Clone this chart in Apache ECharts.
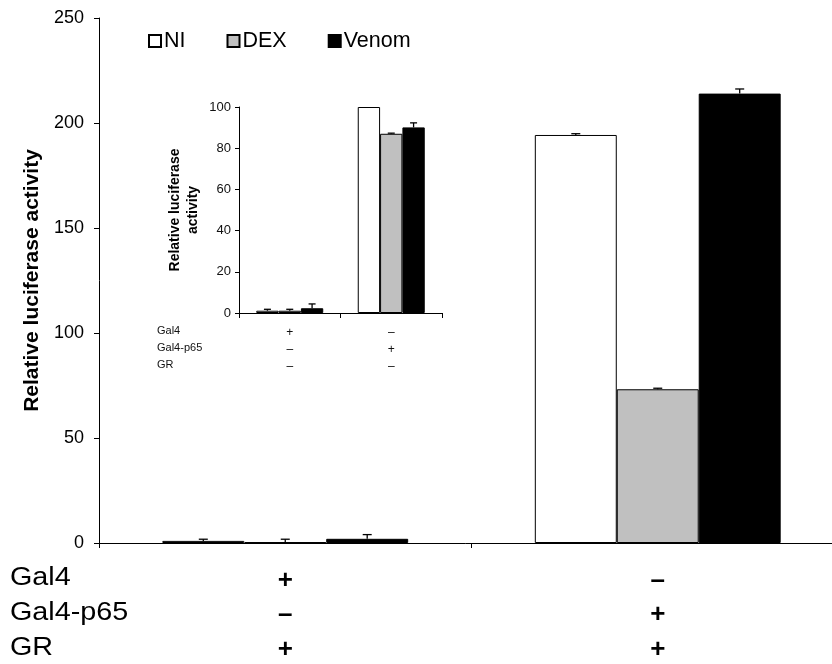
<!DOCTYPE html>
<html><head><meta charset="utf-8">
<script src="https://cdn.jsdelivr.net/npm/echarts@6/dist/echarts.min.js"></script>
<style>html,body{margin:0;padding:0;background:#fff}#c{width:832px;height:664px}</style>
</head><body><div id="c"></div>
<script>
// ---- data ----
const categories = ['g1', 'g2'];
const seriesNames = ['NI', 'DEX', 'Venom'];
// main chart (Gal4 + / Gal4-p65 - / GR +  and  Gal4 - / Gal4-p65 + / GR +)
const mainNI = [1.0, 194.3];
const mainDEX = [0.4, 73.2];
const mainVenom = [2.0, 214.0];
const mainNIErr = [0.8, 0.6];
const mainDEXErr = [1.4, 0.5];
const mainVenomErr = [2.0, 2.2];
const mainYTicks = [0, 50, 100, 150, 200, 250];
const mainRowLabels = ['Gal4', 'Gal4-p65', 'GR'];
const mainSigns = [['+', '–', '+'], ['–', '+', '+']];
// inset chart
const insetNI = [1.1, 100];
const insetDEX = [1.1, 87.0];
const insetVenom = [2.3, 90.1];
const insetNIErr = [0.7, 0];
const insetDEXErr = [0.7, 0.3];
const insetVenomErr = [2.1, 2.2];
const insetYTicks = [0, 20, 40, 60, 80, 100];
const insetRowLabels = ['Gal4', 'Gal4-p65', 'GR'];
const insetSigns = [['+', '–', '–'], ['–', '+', '–']];

const FONT = 'Liberation Sans, Arial, sans-serif';
const colors = ['#ffffff', '#c0c0c0', '#000000'];
const BARW = 0.22;

const chart = echarts.init(document.getElementById('c'), null, {renderer: 'canvas'});

function barSeries(name, data, k, axisIdx) {
  return {
    name: name, type: 'bar', data: data,
    xAxisIndex: axisIdx, yAxisIndex: axisIdx,
    barWidth: (BARW * 100) + '%', barGap: '0%',
    itemStyle: {color: colors[k], borderColor: '#000', borderWidth: 1},
    emphasis: {disabled: true}, animation: false, z: 2
  };
}
function errSeries(vals, errs, axisIdx, capW) {
  const data = [];
  vals.forEach((arr, k) => arr.forEach((v, i) => data.push([i, v, errs[k][i], k])));
  return {
    type: 'custom', xAxisIndex: axisIdx, yAxisIndex: axisIdx, z: 5, animation: false,
    data: data,
    renderItem: function (params, api) {
      const i = api.value(0), v = api.value(1), e = api.value(2), k = api.value(3);
      if (!(e > 0)) return null;
      const band = api.size([1, 0])[0];
      const bw = band * BARW;
      const p0 = api.coord([i, v]);
      const p1 = api.coord([i, v + e]);
      const cx = p0[0] + (k - 1) * bw;
      const st = {stroke: '#000', lineWidth: 1.3};
      return {type: 'group', children: [
        {type: 'line', shape: {x1: cx, y1: p0[1], x2: cx, y2: p1[1]}, style: st},
        {type: 'line', shape: {x1: cx - capW / 2, y1: p1[1], x2: cx + capW / 2, y2: p1[1]}, style: st}
      ]};
    }
  };
}
function signFormatter(signs) {
  return function (val, idx) { return signs[idx].join('\n'); };
}

const graphics = [];
mainRowLabels.forEach((t, r) => graphics.push({
  type: 'text', left: 10, top: 566 + r * 34.7, silent: true,
  style: {text: t, fontSize: 25, fontFamily: FONT, fill: '#000'}, scaleX: 1.15
}));
insetRowLabels.forEach((t, r) => graphics.push({
  type: 'text', left: 157, top: 332 + r * 17 - 6.5, silent: true,
  style: {text: t, fontSize: 11, fontFamily: FONT, fill: '#111'}
}));

const option = {
  backgroundColor: '#fff',
  animation: false,
  textStyle: {fontFamily: FONT},
  legend: {
    data: seriesNames, left: 148, top: 30, padding: 0, itemWidth: 12, itemHeight: 12, itemGap: 41,
    icon: 'rect', selectedMode: false,
    textStyle: {fontSize: 21.5, color: '#000', fontFamily: FONT, padding: [0, 0, 0, -2]}
  },
  grid: [
    {left: 99, top: 18, width: 745, height: 525, outerBoundsMode: 'none', containLabel: false},
    {left: 239, top: 107, width: 203, height: 206, outerBoundsMode: 'none', containLabel: false}
  ],
  xAxis: [
    {type: 'category', gridIndex: 0, data: categories, boundaryGap: true,
     axisLine: {lineStyle: {color: '#000', width: 1}},
     axisTick: {show: true, length: 5, lineStyle: {color: '#000'}},
     axisLabel: {formatter: signFormatter(mainSigns), fontSize: 26, fontWeight: 'bold', lineHeight: 34.7,
                 margin: 20, color: '#000', fontFamily: FONT}},
    {type: 'category', gridIndex: 1, data: categories, boundaryGap: true,
     axisLine: {lineStyle: {color: '#000', width: 1}},
     axisTick: {show: true, length: 5, lineStyle: {color: '#000'}},
     axisLabel: {formatter: signFormatter(insetSigns), fontSize: 12, lineHeight: 17,
                 margin: 11, color: '#111', fontFamily: FONT}}
  ],
  yAxis: [
    {type: 'value', gridIndex: 0, min: mainYTicks[0], max: mainYTicks[mainYTicks.length - 1], interval: 50,
     name: 'Relative luciferase activity', nameLocation: 'middle', nameGap: 45,
     nameTextStyle: {fontSize: 21, fontWeight: 'bold', color: '#000', fontFamily: FONT},
     axisLine: {show: true, lineStyle: {color: '#000'}},
     axisTick: {show: true, length: 5, lineStyle: {color: '#000'}},
     splitLine: {show: false},
     axisLabel: {fontSize: 18, color: '#000', margin: 15, fontFamily: FONT}},
    {type: 'value', gridIndex: 1, min: insetYTicks[0], max: insetYTicks[insetYTicks.length - 1], interval: 20,
     name: 'Relative luciferase\nactivity', nameLocation: 'middle', nameGap: 37,
     nameTextStyle: {fontSize: 14, fontWeight: 'bold', color: '#000', lineHeight: 18, fontFamily: FONT},
     axisLine: {show: true, lineStyle: {color: '#000'}},
     axisTick: {show: true, length: 4, lineStyle: {color: '#000'}},
     splitLine: {show: false},
     axisLabel: {fontSize: 13, color: '#111', margin: 8, fontFamily: FONT}}
  ],
  series: [
    barSeries('NI', mainNI, 0, 0),
    barSeries('DEX', mainDEX, 1, 0),
    barSeries('Venom', mainVenom, 2, 0),
    errSeries([mainNI, mainDEX, mainVenom], [mainNIErr, mainDEXErr, mainVenomErr], 0, 9),
    barSeries('NI inset', insetNI, 0, 1),
    barSeries('DEX inset', insetDEX, 1, 1),
    barSeries('Venom inset', insetVenom, 2, 1),
    errSeries([insetNI, insetDEX, insetVenom], [insetNIErr, insetDEXErr, insetVenomErr], 1, 7)
  ],
  graphic: graphics
};
chart.setOption(option);
</script>
</body></html>
